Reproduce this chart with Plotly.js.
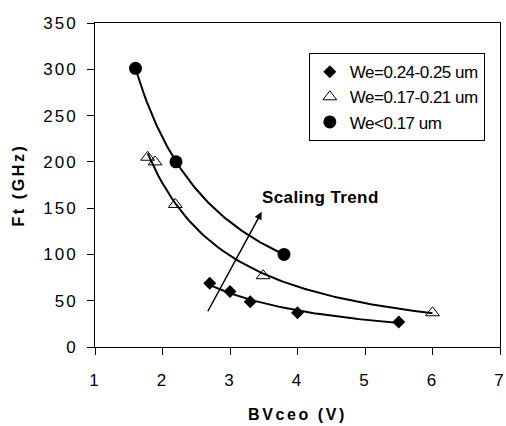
<!DOCTYPE html>
<html>
<head>
<meta charset="utf-8">
<script src="https://cdn.plot.ly/plotly-3.0.1.min.js"></script>
<style>
  html, body { margin: 0; padding: 0; background: #fff; }
  #chart { width: 506px; height: 426px; }
  .xtitle, .ytitle { letter-spacing: 2.6px; }
  .xtick text, .ytick text { letter-spacing: 2px; }
  .annotation-text { letter-spacing: 0.4px; }
  .legendtext { letter-spacing: -0.5px; }
</style>
</head>
<body>
<div id="chart"></div>
<script>
// ---- data ----
const seriesNames = ["We=0.24-0.25 um", "We=0.17-0.21 um", "We<0.17 um"];
const diamondBV = [2.7, 3.0, 3.3, 4.0, 5.5];
const diamondFt = [69, 60, 49, 37, 27];
const triangleBV = [1.78, 1.89, 2.19, 3.49, 6.0];
const triangleFt = [205, 200, 154, 77, 37];
const circleBV = [1.6, 2.2, 3.8];
const circleFt = [301, 200, 100];
const xTicks = [1, 2, 3, 4, 5, 6, 7];
const yTicks = [0, 50, 100, 150, 200, 250, 300, 350];
const arrowFrom = [2.66, 37];
const arrowTo = [3.47, 146];
const arrowLabel = "Scaling Trend";

// Power trendline (least squares in log-log, like a spreadsheet power trendline)
function powerFit(xs, ys) {
  const n = xs.length;
  let sx = 0, sy = 0, sxx = 0, sxy = 0;
  for (let i = 0; i < n; i++) {
    const lx = Math.log(xs[i]), ly = Math.log(ys[i]);
    sx += lx; sy += ly; sxx += lx * lx; sxy += lx * ly;
  }
  const b = (n * sxy - sx * sy) / (n * sxx - sx * sx);
  const a = Math.exp((sy - b * sx) / n);
  const x0 = Math.min(...xs), x1 = Math.max(...xs);
  const fx = [], fy = [];
  const steps = 80;
  for (let k = 0; k <= steps; k++) {
    const x = x0 + (x1 - x0) * k / steps;
    fx.push(x); fy.push(a * Math.pow(x, b));
  }
  return { x: fx, y: fy };
}

const FONT = "Liberation Sans, Arial, Helvetica, sans-serif";

function trend(xs, ys) {
  const f = powerFit(xs, ys);
  return { x: f.x, y: f.y, mode: "lines", type: "scatter", showlegend: false,
           hoverinfo: "skip", line: { color: "#000", width: 2 } };
}

const traces = [
  trend(diamondBV, diamondFt),
  trend(triangleBV, triangleFt),
  trend(circleBV, circleFt),
  { x: diamondBV, y: diamondFt, name: seriesNames[0], mode: "markers", type: "scatter",
    marker: { symbol: "diamond", size: 10, color: "#000" } },
  { x: triangleBV, y: triangleFt, name: seriesNames[1], mode: "markers", type: "scatter",
    marker: { symbol: "triangle-up-open", size: 12, color: "#000", line: { color: "#000", width: 1 } } },
  { x: circleBV, y: circleFt, name: seriesNames[2], mode: "markers", type: "scatter",
    marker: { symbol: "circle", size: 13, color: "#000" } }
];

const axisCommon = {
  showgrid: false, zeroline: false, showline: true, mirror: true,
  linecolor: "#000", linewidth: 1, ticks: "outside", ticklen: 7,
  tickcolor: "#000", tickwidth: 1,
  tickfont: { family: FONT, size: 17, color: "#000" }
};

const layout = {
  width: 506, height: 426,
  margin: { l: 95, r: 6, t: 23, b: 79 },
  paper_bgcolor: "#fff", plot_bgcolor: "#fff",
  font: { family: FONT, color: "#000" },
  xaxis: Object.assign({}, axisCommon, {
    range: [1, 7], tickvals: xTicks, ticklabelstandoff: 11,
    title: { text: "BVceo (V)", font: { family: FONT, size: 16, weight: "bold", color: "#000" }, standoff: 19 }
  }),
  yaxis: Object.assign({}, axisCommon, {
    range: [0, 350], tickvals: yTicks, ticklabelstandoff: 6,
    title: { text: "Ft (GHz)", font: { family: FONT, size: 16, weight: "bold", color: "#000" }, standoff: 14 }
  }),
  legend: {
    x: 0.528, y: 0.907, xanchor: "left", yanchor: "top",
    bordercolor: "#000", borderwidth: 1, bgcolor: "#fff",
    font: { family: FONT, size: 17, color: "#000" },
    itemwidth: 30, tracegroupgap: 0
  },
  annotations: [
    { x: arrowTo[0], y: arrowTo[1], ax: arrowFrom[0], ay: arrowFrom[1],
      xref: "x", yref: "y", axref: "x", ayref: "y", text: "",
      showarrow: true, arrowhead: 2, arrowsize: 1, arrowwidth: 1.5, arrowcolor: "#000" },
    { x: arrowTo[0], y: arrowTo[1], xref: "x", yref: "y", text: arrowLabel,
      showarrow: false, xanchor: "left", yanchor: "bottom", xshift: -2, yshift: 3,
      font: { family: FONT, size: 17, weight: "bold", color: "#000" } }
  ],
  showlegend: true
};

Plotly.newPlot("chart", traces, layout, { displayModeBar: false, staticPlot: true });
</script>
</body>
</html>
